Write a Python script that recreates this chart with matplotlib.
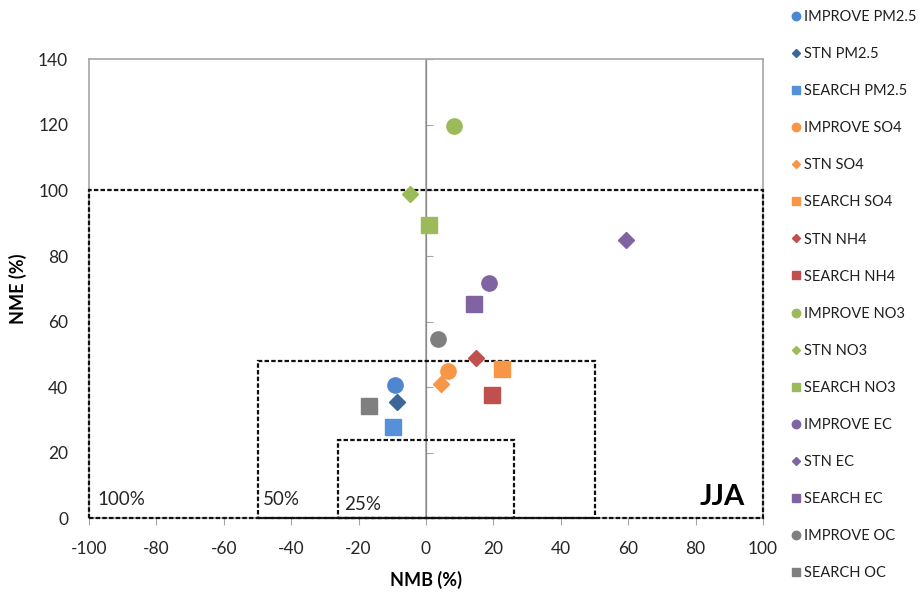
import matplotlib
matplotlib.use("Agg")
import matplotlib.pyplot as plt
from matplotlib.patches import Rectangle

plt.rcParams['font.family'] = ['Lato', 'DejaVu Sans']
plt.rcParams['axes.unicode_minus'] = False

# NMB / NME per network and species (JJA)
series = ['IMPROVE PM2.5', 'STN PM2.5', 'SEARCH PM2.5',
          'IMPROVE SO4', 'STN SO4', 'SEARCH SO4',
          'STN NH4', 'SEARCH NH4',
          'IMPROVE NO3', 'STN NO3', 'SEARCH NO3',
          'IMPROVE EC', 'STN EC', 'SEARCH EC',
          'IMPROVE OC', 'SEARCH OC']
nmb = [-9.3, -8.7, -9.7,
       6.5, 4.4, 22.7,
       14.7, 19.5,
       8.3, -4.6, 1.0,
       18.7, 59.3, 14.2,
       3.7, -16.9]
nme = [40.7, 35.5, 27.8,
       44.9, 41.0, 45.5,
       49.0, 37.5,
       119.7, 98.9, 89.5,
       71.9, 85.0, 65.4,
       54.8, 34.3]

# criteria boxes: (half width in NMB, height in NME, label)
box_nmb = [100, 50, 26]
box_nme = [100, 48, 24]
box_text = ['100%', '50%', '25%']
season = 'JJA'

colors = ['#4F86D0', '#3A6699', '#5590D9',
          '#F79646', '#F79646', '#F79646',
          '#C0504D', '#C0504D',
          '#9BBB59', '#9BBB59', '#9BBB59',
          '#8064A2', '#8064A2', '#8064A2',
          '#7F7F7F', '#7F7F7F']
shapes = {'IMPROVE': ('o', 11), 'STN': ('D', 8), 'SEARCH': ('s', 11)}

fig = plt.figure(figsize=(9.2, 5.98), dpi=100)
ax = fig.add_axes([89 / 920, 1 - 518.3 / 598, 674 / 920, 459 / 598])
ax.set_xlim(-100, 100)
ax.set_ylim(0, 140)

grey = '#A6A6A6'
for s in ax.spines.values():
    s.set_color(grey)
    s.set_linewidth(1.2)

# y axis crossing at NMB = 0 (tick marks only)
ax.axvline(0, color=grey, lw=1.2, zorder=1)
yax0 = ax.secondary_yaxis(0.5)
yax0.spines['left'].set_visible(False)
yax0.set_yticks(range(0, 141, 20))
yax0.set_yticklabels([])
yax0.tick_params(axis='y', direction='out', length=5, color=grey)

ax.set_xticks(range(-100, 101, 20))
ax.set_yticks(range(0, 141, 20))
ax.tick_params(axis='x', direction='out', length=5, color=grey, pad=11,
               labelsize=12.5, labelcolor='#262626')
ax.tick_params(axis='y', length=0, pad=15, labelsize=12.5, labelcolor='#262626')

for w, h in zip(box_nmb, box_nme):
    ax.add_patch(Rectangle((-w, 0), 2 * w, h, fill=False, ec='#111111',
                           lw=1.6, ls=(0, (2.0, 1.0)), zorder=3, clip_on=False))
ax.text(-97.5, 4, box_text[0], fontsize=13.5, color='#262626')
ax.text(-48.5, 4, box_text[1], fontsize=13.5, color='#262626')
ax.text(-24.2, 2.5, box_text[2], fontsize=13.5, color='#262626')
ax.text(94.5, 4, season, fontsize=21, fontweight='bold', ha='right', color='black')

for name, x, y, c in zip(series, nmb, nme, colors):
    m, ms = shapes[name.split()[0]]
    ax.plot(x, y, ls='none', marker=m, ms=ms, color=c, mec=c, label=name, zorder=4)

ax.set_xlabel('NMB (%)', fontsize=13, fontweight='bold', labelpad=10)
ax.set_ylabel('NME (%)', fontsize=13, fontweight='bold', labelpad=8)

fig.legend(loc='upper left', bbox_to_anchor=(784 / 920, 1 - 3 / 598),
           frameon=False, fontsize=10.5, markerscale=0.55, handlelength=0.6,
           handletextpad=0.3, labelspacing=1.58, borderpad=0,
           labelcolor='#1F1F1F')

fig.savefig('out.png', dpi=100)
